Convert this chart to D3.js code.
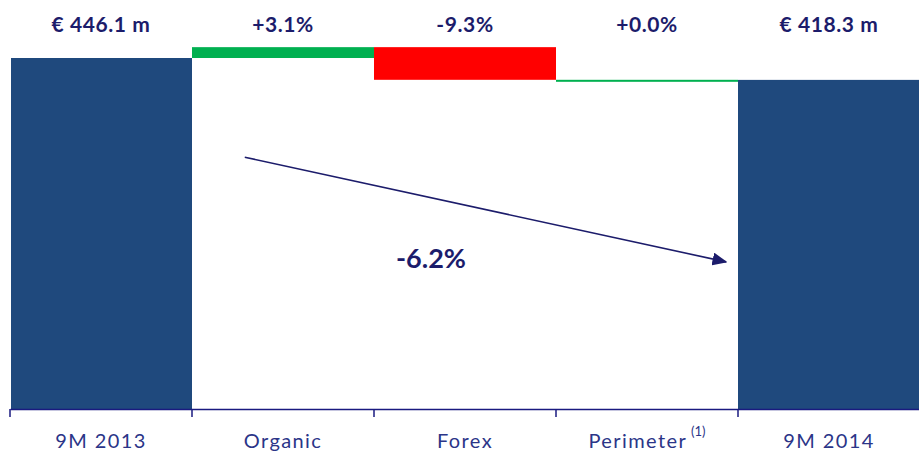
<!DOCTYPE html>
<html>
<head>
<meta charset="utf-8">
<script src="https://cdn.jsdelivr.net/npm/d3@7"></script>
<style>
  body { margin: 0; background: #fff; }
  svg { display: block; font-family: Lato, "Open Sans", sans-serif; }
</style>
</head>
<body>
<div id="chart"></div>
<script>
// data (€ m)
const categories = ['9M 2013', 'Organic', 'Forex', 'Perimeter', '9M 2014'];
const kinds = ['total', 'delta', 'delta', 'delta', 'total'];
const values = [446.1, 13.8, -41.5, -0.1, 418.3];
const topLabels = ['€ 446.1 m', '+3.1%', '-9.3%', '+0.0%', '€ 418.3 m'];
const footnotes = ['', '', '', '(1)', ''];
const overallChange = '-6.2%';

const width = 919, height = 452;
const axisY = 409;

const navy = '#1f497d';
const textColor = '#1c1c6b';

const svg = d3.select('#chart')
    .append('svg')
    .attr('width', width)
    .attr('height', height);

const xScale = d3.scaleBand()
    .domain(categories)
    .range([10, 920])
    .paddingInner(0)
    .paddingOuter(0);

const yScale = d3.scaleLinear()
    .domain([0, 500])
    .range([axisY, axisY - 500 * 0.7868]);

// build waterfall steps
let running = 0;
const steps = categories.map((c, i) => {
    let start, end;
    if (kinds[i] === 'total') {
        start = 0;
        end = values[i];
        running = values[i];
    } else {
        start = running;
        end = running + values[i];
        running = end;
    }
    return { cat: c, kind: kinds[i], value: values[i], start, end };
});

const colorOf = d => d.kind === 'total' ? navy : (d.value < -1 ? '#ff0000' : '#00b050');

svg.selectAll('rect.bar')
    .data(steps)
    .enter()
    .append('rect')
    .attr('class', 'bar')
    .attr('x', d => xScale(d.cat) + (d.cat === categories[0] ? 1 : 0))
    .attr('width', d => xScale.bandwidth() - (d.cat === categories[0] ? 1 : 0))
    .attr('y', d => yScale(Math.max(d.start, d.end)))
    .attr('height', d => Math.max(2, Math.abs(yScale(d.start) - yScale(d.end))))
    .attr('fill', colorOf);

// axis
const xAxis = d3.axisBottom(xScale).tickSize(0).tickFormat('');
svg.append('g')
    .attr('transform', 'translate(0,' + axisY + ')')
    .call(xAxis)
    .call(g => g.select('.domain').attr('stroke', '#1a1a80').attr('stroke-width', 1.5));

// ticks at band edges
const edges = categories.map(c => xScale(c));
svg.selectAll('line.tick-edge')
    .data(edges)
    .enter()
    .append('line')
    .attr('class', 'tick-edge')
    .attr('x1', d => d).attr('x2', d => d)
    .attr('y1', axisY).attr('y2', axisY + 8)
    .attr('stroke', '#1a1a80')
    .attr('stroke-width', 1.5);

// category labels
const catText = svg.selectAll('text.cat')
    .data(categories)
    .enter()
    .append('text')
    .attr('class', 'cat')
    .attr('x', d => xScale(d) + xScale.bandwidth() / 2)
    .attr('y', 448)
    .attr('text-anchor', 'middle')
    .attr('font-size', 20)
    .attr('letter-spacing', 1.4)
    .attr('fill', '#2b3588');

catText.text(d => d);
catText.filter((d, i) => footnotes[i] !== '')
    .append('tspan')
    .attr('dx', 4)
    .attr('dy', -12)
    .attr('font-size', 13)
    .attr('letter-spacing', 0)
    .text((d) => footnotes[categories.indexOf(d)]);

// top labels
svg.selectAll('text.top')
    .data(topLabels)
    .enter()
    .append('text')
    .attr('class', 'top')
    .attr('x', (d, i) => xScale(categories[i]) + xScale.bandwidth() / 2)
    .attr('y', 32)
    .attr('text-anchor', 'middle')
    .attr('font-size', 21)
    .attr('letter-spacing', 0.6)
    .attr('font-weight', 'bold')
    .attr('fill', textColor)
    .text(d => d);

// overall change arrow
svg.append('defs').append('marker')
    .attr('id', 'arrow')
    .attr('viewBox', '0 0 10 10')
    .attr('refX', 9).attr('refY', 5)
    .attr('markerWidth', 15).attr('markerHeight', 13)
    .attr('markerUnits', 'userSpaceOnUse')
    .attr('orient', 'auto')
    .attr('preserveAspectRatio', 'none')
    .append('path')
    .attr('d', 'M0,0 L10,5 L0,10 z')
    .attr('fill', textColor);

svg.append('line')
    .attr('x1', xScale('Organic') + xScale.bandwidth() * 0.29)
    .attr('y1', yScale(320))
    .attr('x2', xScale('9M 2014') - 12)
    .attr('y2', yScale(187))
    .attr('stroke', textColor)
    .attr('stroke-width', 1.6)
    .attr('marker-end', 'url(#arrow)');

svg.append('text')
    .attr('x', xScale('Forex') + 57)
    .attr('y', 268)
    .attr('text-anchor', 'middle')
    .attr('font-size', 27)
    .attr('font-weight', 'bold')
    .attr('fill', textColor)
    .text(overallChange);
</script>
</body>
</html>
